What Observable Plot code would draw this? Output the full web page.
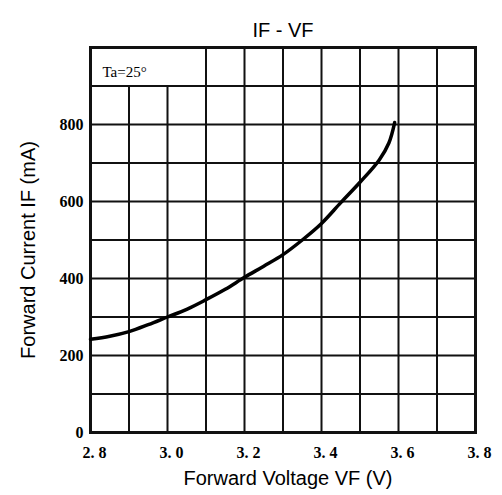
<!DOCTYPE html>
<html>
<head>
<meta charset="utf-8">
<script src="https://cdn.jsdelivr.net/npm/d3@7"></script>
<script src="https://cdn.jsdelivr.net/npm/@observablehq/plot@0.6"></script>
<style>
  html, body { margin: 0; padding: 0; background: #fff; }
</style>
</head>
<body>
<div id="chart"></div>
<script>
// Forward voltage (V) and forward current (mA)
const voltage = [2.8, 2.85, 2.9, 2.95, 3.0, 3.05, 3.1, 3.15, 3.2, 3.25, 3.3, 3.35, 3.4, 3.45, 3.5, 3.55, 3.575, 3.59];
const current = [242, 250, 262, 280, 300, 320, 345, 372, 403, 432, 462, 500, 543, 597, 650, 708, 752, 805];

// Grid / tick values
const xGridFull = [2.8, 3.1, 3.2, 3.3, 3.4, 3.5, 3.6, 3.7, 3.8];
const xGridShort = [2.9, 3.0];
const yGrid = [0, 100, 200, 300, 400, 500, 600, 700, 800, 900, 1000];
const xTickValues = [2.8, 3.0, 3.2, 3.4, 3.6, 3.8];
const yTickValues = [0, 200, 400, 600, 800];

const title = "IF - VF";
const xLabel = "Forward Voltage VF (V)";
const yLabel = "Forward Current IF (mA)";
const note = "Ta=25°";

const data = voltage.map((v, i) => ({v, i: current[i]}));

const sans = "'Liberation Sans', Arial, sans-serif";
const serif = "'Liberation Serif', 'Times New Roman', serif";

const chart = Plot.plot({
  width: 502,
  height: 495,
  marginLeft: 90,
  marginRight: 27,
  marginTop: 47,
  marginBottom: 63,
  style: {background: "#fff", color: "#000", fontFamily: sans},
  x: {domain: [2.8, 3.8]},
  y: {domain: [0, 1000]},
  marks: [
    Plot.ruleY(yGrid, {stroke: "#111", strokeWidth: 2}),
    Plot.ruleX(xGridFull, {y1: 0, y2: 1000, stroke: "#111", strokeWidth: 2}),
    Plot.ruleX(xGridShort, {y1: 0, y2: 900, stroke: "#111", strokeWidth: 2}),
    Plot.frame({stroke: "#111", strokeWidth: 3}),
    Plot.axisX({ticks: xTickValues, tickSize: 0, tickPadding: 14, dx: 4,
      tickFormat: d => d.toFixed(1).replace(".", ". "),
      fontFamily: serif, fontWeight: "bold", fontSize: 16, label: null}),
    Plot.axisY({ticks: yTickValues, tickSize: 0, tickPadding: 7,
      fontFamily: serif, fontWeight: "bold", fontSize: 16, label: null}),
    Plot.line(data, {x: "v", y: "i", curve: "catmull-rom", stroke: "#000", strokeWidth: 3.5}),
    Plot.text([note], {frameAnchor: "top-left", dx: 12, dy: 19, textAnchor: "start",
      fontFamily: serif, fontSize: 15, fill: "#000"}),
    Plot.text([title], {frameAnchor: "top", dy: -25, fontSize: 20, fontFamily: sans, fill: "#000"}),
    Plot.text([xLabel], {frameAnchor: "bottom", dy: 52, dx: 5, fontSize: 20, fontFamily: sans, fill: "#000"}),
    Plot.text([yLabel], {frameAnchor: "left", textAnchor: "middle", rotate: -90, dx: -62, dy: 10, fontSize: 20, fontFamily: sans, fill: "#000"})
  ]
});
document.getElementById("chart").appendChild(chart);
</script>
</body>
</html>
